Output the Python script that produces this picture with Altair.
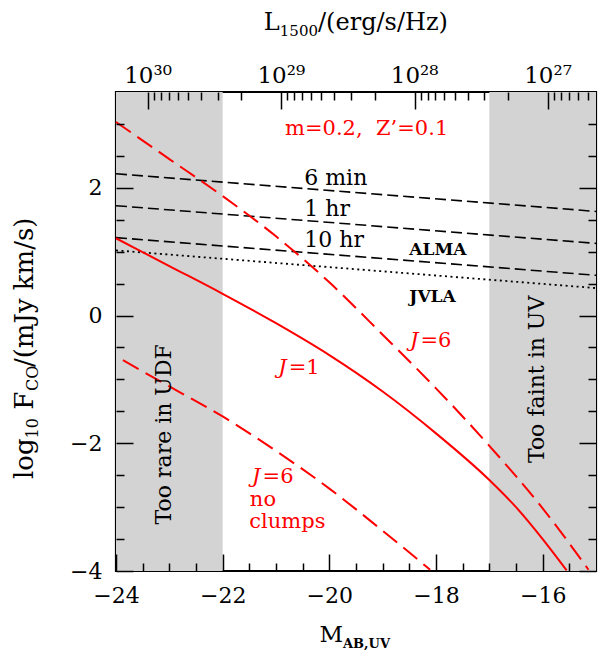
import math
import altair as alt
import pandas as pd

FONT = "DejaVu Serif"
RED = "#ff0000"
GRAY = "#d3d3d3"
W, H = 480, 479

# ---------------- data ----------------
M_J1 = [-24.0, -23.0, -22.0, -21.0, -20.0, -19.0, -18.0, -17.0, -16.5, -16.0, -15.55]
F_J1 = [1.21, 0.775, 0.34, -0.12, -0.62, -1.19, -1.845, -2.575, -3.0, -3.5, -3.99]

M_J6 = [-24.0, -23.0, -22.0, -21.0, -20.0, -19.0, -18.0, -17.0, -16.0, -15.14]
F_J6 = [3.03, 2.45, 1.87, 1.24, 0.52, -0.30, -1.14, -2.04, -3.02, -3.98]

M_J6NC = [-23.87, -23.0, -22.0, -21.0, -20.0, -19.0, -18.11]
F_J6NC = [-0.70, -1.11, -1.58, -2.12, -2.71, -3.37, -3.98]

M_SENS = [-24.0, -15.0]
ALMA_6MIN = [2.22, 1.63]
ALMA_1HR = [1.72, 1.13]
ALMA_10HR = [1.22, 0.63]
JVLA = [1.02, 0.43]

SHADE_FROM = [-24.0, -17.0]
SHADE_TO = [-22.0, -15.0]

X_DOMAIN = [-24, -15]
Y_DOMAIN = [-4, 3.5]
X_MAJOR = [-24, -22, -20, -18, -16]
X_MINOR = [-23.5, -23, -22.5, -21.5, -21, -20.5, -19.5, -19, -18.5, -17.5, -17, -16.5, -15.5]
Y_MAJOR = [-4, -2, 0, 2]
Y_MINOR = [-3.5, -3, -2.5, -1.5, -1, -0.5, 0.5, 1, 1.5, 2.5, 3]

# top axis: L_1500 in erg/s/Hz, with M_AB = 51.6 - 2.5 log10(L)
L_MAJOR = [1e27, 1e28, 1e29, 1e30]
L_LABELS = ["10²⁷", "10²⁸", "10²⁹", "10³⁰"]
L_MANTISSA = [2, 3, 4, 5, 6, 7, 8, 9]
L_DECADES = [26, 27, 28, 29]
MAG_ZERO = 51.6
L_LO = 10 ** ((MAG_ZERO - X_DOMAIN[1]) / 2.5)
L_HI = 10 ** ((MAG_ZERO - X_DOMAIN[0]) / 2.5)
L_MINOR = [m * 10 ** d for d in L_DECADES for m in L_MANTISSA if L_LO <= m * 10 ** d <= L_HI]
L_TO_M = f"{MAG_ZERO} - 2.5 * log(datum.L) / LN10"
LM_MAJOR = [MAG_ZERO - 2.5 * math.log10(v) for v in L_MAJOR]
LM_MINOR = [MAG_ZERO - 2.5 * math.log10(v) for v in L_MINOR]

MAJ, MIN = 17, 8

# ---------------- scales & axes ----------------
XS = alt.Scale(domain=X_DOMAIN, nice=False, zero=False)
YS = alt.Scale(domain=Y_DOMAIN, nice=False, zero=False)

AX_X = alt.Axis(orient="bottom", values=X_MAJOR, format="d", title=None, ticks=False, domain=False,
                grid=False, labelPadding=14, labelFont=FONT, labelFontSize=22, labelColor="black",
                labelFlush=False, labelOverlap=False, zindex=1)
AX_Y = alt.Axis(orient="left", values=Y_MAJOR, format="d", title=None, ticks=False, domain=False,
                grid=False, labelPadding=14, labelFont=FONT, labelFontSize=22, labelColor="black",
                labelOverlap=False, zindex=1)


def tick_axis(orient, offset, values, size):
    # an axis moved onto the opposite edge so that its ticks point into the plot
    return alt.Axis(orient=orient, offset=offset, values=values, tickSize=size, tickWidth=1.5,
                    tickColor="black", tickOpacity=1, ticks=True, labels=False, domain=False,
                    grid=False, title=None, zindex=2)


def xq(f, axis=None):
    return alt.X(f"{f}:Q", scale=XS, axis=axis)


def yq(f, axis=None):
    return alt.Y(f"{f}:Q", scale=YS, axis=axis)


SHADE_DF = pd.DataFrame({"a": SHADE_FROM, "b": SHADE_TO,
                         "lo": [Y_DOMAIN[0]] * 2, "hi": [Y_DOMAIN[1]] * 2})

# shaded regions (also carry the labelled bottom/left axes)
shade = alt.Chart(SHADE_DF).mark_rect(color=GRAY).encode(
    x=xq("a", AX_X), x2="b", y=yq("lo", AX_Y), y2="hi")


def carrier(ax_x, ax_y):
    return alt.Chart(SHADE_DF).mark_point(opacity=0).encode(x=xq("a", ax_x), y=yq("lo", ax_y))


def curve(M, F, color, width, dash=None):
    kw = dict(color=color, strokeWidth=width, interpolate="monotone")
    if dash:
        kw["strokeDash"] = dash
    return alt.Chart(pd.DataFrame({"M": M, "F": F})).mark_line(**kw).encode(x=xq("M"), y=yq("F"))


layers = [shade,
          curve(M_SENS, ALMA_6MIN, "black", 1.6, [11, 5]),
          curve(M_SENS, ALMA_1HR, "black", 1.6, [11, 5]),
          curve(M_SENS, ALMA_10HR, "black", 1.6, [11, 5]),
          curve(M_SENS, JVLA, "black", 1.8, [2, 3.5]),
          curve(M_J1, F_J1, RED, 2),
          curve(M_J6, F_J6, RED, 2, [18, 8]),
          curve(M_J6NC, F_J6NC, RED, 2, [18, 8])]


def txt(labels, Ms, Fs, **kw):
    base = dict(font=FONT)
    base.update(kw)
    return alt.Chart(pd.DataFrame({"t": labels, "M": Ms, "F": Fs})).mark_text(**base).encode(
        x=xq("M"), y=yq("F"), text="t:N")


NB = "\u00a0"
# annotations
layers += [
    txt([f"m=0.2,{NB}{NB}Z’=0.1"], [-19.3], [2.83], color=RED, fontSize=21, align="center", baseline="alphabetic"),
    txt([f"6{NB}min", f"1{NB}hr", f"10{NB}hr"], [-20.47] * 3, [2.05, 1.56, 1.07], color="black", fontSize=22,
        align="left", baseline="alphabetic"),
    txt(["ALMA", "JVLA"], [-18.5, -18.5], [0.94, 0.21], color="black", fontSize=17, fontWeight="bold",
        align="left", baseline="alphabetic"),
    txt(["J", "J", "J"], [-18.33, -20.8, -21.29], [-0.485, -0.91, -2.62], color=RED, fontSize=21,
        fontStyle="italic", align="right", baseline="alphabetic"),
    txt(["=6", "=1", "=6"], [-18.33, -20.8, -21.29], [-0.485, -0.91, -2.62], color=RED, fontSize=21,
        align="left", baseline="alphabetic", dx=2),
    txt(["no", "clumps"], [-21.49, -21.5], [-2.99, -3.32], color=RED, fontSize=21,
        align="left", baseline="alphabetic"),
    txt(["Too rare in UDF", "Too faint in UV"], [-22.96, -15.97], [-1.86, -1.0], color="black",
        fontSize=22, angle=270, align="center", baseline="alphabetic"),
]

# inward ticks on all four sides, drawn by axes placed on the opposite edges
layers += [
    carrier(tick_axis("top", -H, X_MAJOR, MAJ), tick_axis("right", -W, Y_MAJOR, MAJ)),
    carrier(tick_axis("top", -H, X_MINOR, MIN), tick_axis("right", -W, Y_MINOR, MIN)),
    carrier(tick_axis("bottom", -H, LM_MAJOR, MAJ), tick_axis("left", -W, Y_MAJOR, MAJ)),
    carrier(tick_axis("bottom", -H, LM_MINOR, MIN), tick_axis("left", -W, Y_MINOR, MIN)),
]

# top-axis labels (positions converted from L through the M scale)
layers += [
    alt.Chart(pd.DataFrame({"L": L_MAJOR, "t": L_LABELS})).transform_calculate(v=L_TO_M).mark_text(
        font=FONT, fontSize=23, color="black", align="center", baseline="alphabetic").encode(
        x=xq("v"), y=alt.value(-9), text="t:N"),
]


# axis titles (composed text pieces, pixel positions relative to plot area)
def label(t, x, y, size, **kw):
    base = dict(font=FONT, fontSize=size, color="black", baseline="alphabetic")
    base.update(kw)
    return alt.Chart(pd.DataFrame({"t": [t]})).mark_text(**base).encode(
        x=alt.value(x), y=alt.value(y), text="t:N")


layers += [
    # top title: L_1500/(erg/s/Hz)
    label("L", 163.8, -62, 24, align="right"),
    label("1500", 163.8, -56, 15, align="left"),
    label("/(erg/s/Hz)", 202, -62, 24, align="left"),
    # bottom title: M_AB,UV
    label("M", 227, 550, 23, align="right"),
    label("AB,UV", 227, 556, 13, align="left", fontWeight="bold"),
    # left title: log10 F_CO/(mJy km/s), rotated
    label("log", -83, 387, 26, align="left", angle=270),
    label("10", -78, 346.5, 16, align="left", angle=270),
    label("F", -83, 317.8, 26, align="left", angle=270),
    label("CO", -78, 299.1, 16, align="left", angle=270),
    label("/(mJy km/s)", -83, 275.1, 26, align="left", angle=270),
]

chart = alt.layer(*layers).resolve_axis(x="independent", y="independent").properties(
    width=W, height=H,
    autosize=alt.AutoSizeParams(type="none"),
    padding={"left": 116, "top": 92, "right": 5, "bottom": 85},
).configure_view(stroke="black", strokeWidth=2.2)

chart.save("out.html", embed_options={"renderer": "svg", "actions": False})
